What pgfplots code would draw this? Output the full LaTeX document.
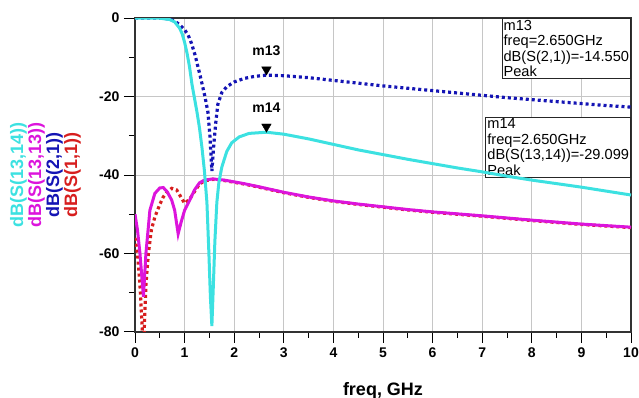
\documentclass[border=0pt]{standalone}
\usepackage{pgfplots}
\pgfplotsset{compat=1.18}
\usepackage{fontspec}
\setmainfont{Liberation Sans}
\definecolor{ccyan}{RGB}{60,225,225}
\definecolor{cmag}{RGB}{220,20,220}
\definecolor{cblue}{RGB}{20,20,180}
\definecolor{cred}{RGB}{215,30,30}
\begin{document}
\begin{tikzpicture}
\useasboundingbox (-135pt,-66pt) rectangle (504pt,332pt);
\begin{axis}[
  at={(0pt,0pt)}, anchor=south west,
  scale only axis, width=496pt, height=314pt,
  xmin=0, xmax=10, ymin=-80, ymax=0,
  xtick={0,1,...,10}, ytick={-80,-60,-40,-20,0},
  minor x tick num=1, minor y tick num=1,
  tick align=outside, tick pos=left,
  major tick length=11pt, minor tick length=6pt,
  every tick/.style={black, line width=1pt},
  grid=major, major grid style={gray!45, line width=0.8pt},
  axis line style={black!80, line width=1.2pt},
  /pgf/number format/assume math mode=true,
  ticklabel style={font=\bfseries\fontsize{14}{14}\selectfont},
  xticklabel style={yshift=-1pt},
  yticklabel style={xshift=-1pt},
  xlabel={\bfseries\fontsize{18}{18}\selectfont freq, GHz},
  xlabel style={at={(axis description cs:0.5,0)}, anchor=center, yshift=-59pt},
  clip=true,
]
\node[draw=black!85, line width=1pt, fill=white, anchor=north east, align=left, inner sep=1.5pt,
  font=\fontsize{14.6}{15.5}\selectfont] at (rel axis cs:1,1)
  {m13\\freq=2.650GHz\\dB(S(2,1))=-14.550\\Peak};
\node[draw=black!85, line width=1pt, fill=white, anchor=north east, align=left, inner sep=1.5pt,
  font=\fontsize{14.6}{15.5}\selectfont] at (rel axis cs:1,0.685)
  {m14\\freq=2.650GHz\\dB(S(13,14))=-29.099\\Peak};
% S(1,1) red dotted
\addplot[cred, line width=3.2pt, line cap=butt, dash pattern=on 3pt off 3pt] coordinates {
(0,-56) (0.05,-60) (0.1,-68) (0.17,-85) (0.22,-68) (0.27,-60) (0.33,-54) (0.4,-50.7)
(0.5,-47.5) (0.57,-45.6) (0.65,-44.3) (0.74,-43.4) (0.84,-43.8) (0.92,-45.5) (1.0,-47.2)
(1.1,-46.2) (1.2,-44.2) (1.3,-42.3) (1.4,-41.5) (1.57,-41.1) (1.8,-41.4) (2.2,-42.3)
(2.5,-43.1) (3.0,-44.5) (3.5,-45.7) (4.0,-46.7) (4.5,-47.5) (5,-48.2) (5.5,-48.9) (6,-49.5)
(6.5,-50) (7,-50.5) (7.5,-51.05) (8,-51.6) (8.5,-52.1) (9,-52.6) (9.5,-53) (10,-53.4)};
% S(13,13) magenta
\addplot[cmag, line width=3pt] coordinates {
(0,-50) (0.05,-54) (0.1,-60) (0.17,-71) (0.22,-60) (0.3,-49) (0.4,-44.7) (0.5,-43.3)
(0.57,-43.2) (0.65,-44.3) (0.74,-46.4) (0.8,-49) (0.87,-55) (0.93,-52) (1.0,-49)
(1.1,-46.5) (1.2,-43.8) (1.3,-42) (1.4,-41.3) (1.57,-41) (1.8,-41.3) (2.2,-42.2)
(2.5,-43) (3.0,-44.4) (3.5,-45.6) (4.0,-46.6) (4.5,-47.4) (5,-48.1) (5.5,-48.8) (6,-49.4)
(6.5,-49.9) (7,-50.4) (7.5,-50.95) (8,-51.5) (8.5,-52) (9,-52.5) (9.5,-52.9) (10,-53.3)};
% S(2,1) blue dotted
\addplot[cblue, line width=3.2pt, line cap=butt, dash pattern=on 3pt off 3pt] coordinates {
(0,0) (0.5,0) (0.6,-0.1) (0.7,-0.3) (0.8,-0.8) (0.9,-1.7) (1.0,-3) (1.07,-4.3)
(1.14,-6.5) (1.21,-9.4) (1.31,-14.5) (1.41,-20) (1.47,-24) (1.51,-30) (1.55,-39)
(1.59,-32) (1.63,-26.5) (1.67,-22) (1.75,-19) (1.85,-17.5) (2.0,-16.3) (2.2,-15.4)
(2.4,-14.9) (2.65,-14.55) (3.0,-14.7) (3.5,-15.2) (4.0,-15.9) (4.5,-16.6) (5.0,-17.3)
(5.5,-17.9) (6.0,-18.5) (6.5,-19.1) (7.0,-19.7) (7.5,-20.3) (8.0,-20.8) (8.5,-21.3)
(9.0,-21.8) (9.5,-22.3) (10,-22.7)};
% S(13,14) cyan
\addplot[ccyan, line width=3pt] coordinates {
(0,0) (0.5,-0.05) (0.7,-0.4) (0.8,-1) (0.9,-2.6) (0.95,-4) (1.0,-6.2) (1.05,-9)
(1.1,-12.5) (1.15,-17) (1.2,-20.5) (1.25,-24) (1.3,-28) (1.35,-33) (1.4,-39) (1.45,-47)
(1.49,-60) (1.52,-71) (1.55,-78.5) (1.58,-68) (1.61,-57) (1.65,-47) (1.69,-42) (1.75,-38)
(1.85,-34) (1.95,-31.8) (2.1,-30.3) (2.3,-29.4) (2.65,-29.1) (3.0,-29.6) (3.5,-30.8)
(4.0,-32.2) (4.5,-33.6) (5.0,-34.8) (5.5,-36) (6.0,-37.1) (6.5,-38.2) (7.0,-39.2)
(7.5,-40.3) (8.0,-41.3) (8.5,-42.2) (9.0,-43.1) (9.5,-44.1) (10,-45.1)};
% markers
\addplot[only marks, mark=triangle*, mark size=5.5pt, black,
  mark options={yshift=5.5pt, rotate=180},
  nodes near coords, point meta=explicit symbolic,
  every node near coord/.style={font=\bfseries\fontsize{14}{14}\selectfont, black, anchor=south, yshift=10.5pt}]
  coordinates {(2.65,-14.55) [m13] (2.65,-29.1) [m14]};
\end{axis}
\node[rotate=90, align=center, font=\bfseries\fontsize{18}{18}\selectfont] at (-89.5pt,157pt)
  {\textcolor{ccyan}{dB(S(13,14))}\\\textcolor{cmag}{dB(S(13,13))}\\\textcolor{cblue}{dB(S(2,1))}\\\textcolor{cred}{dB(S(1,1))}};
\end{tikzpicture}
\end{document}
